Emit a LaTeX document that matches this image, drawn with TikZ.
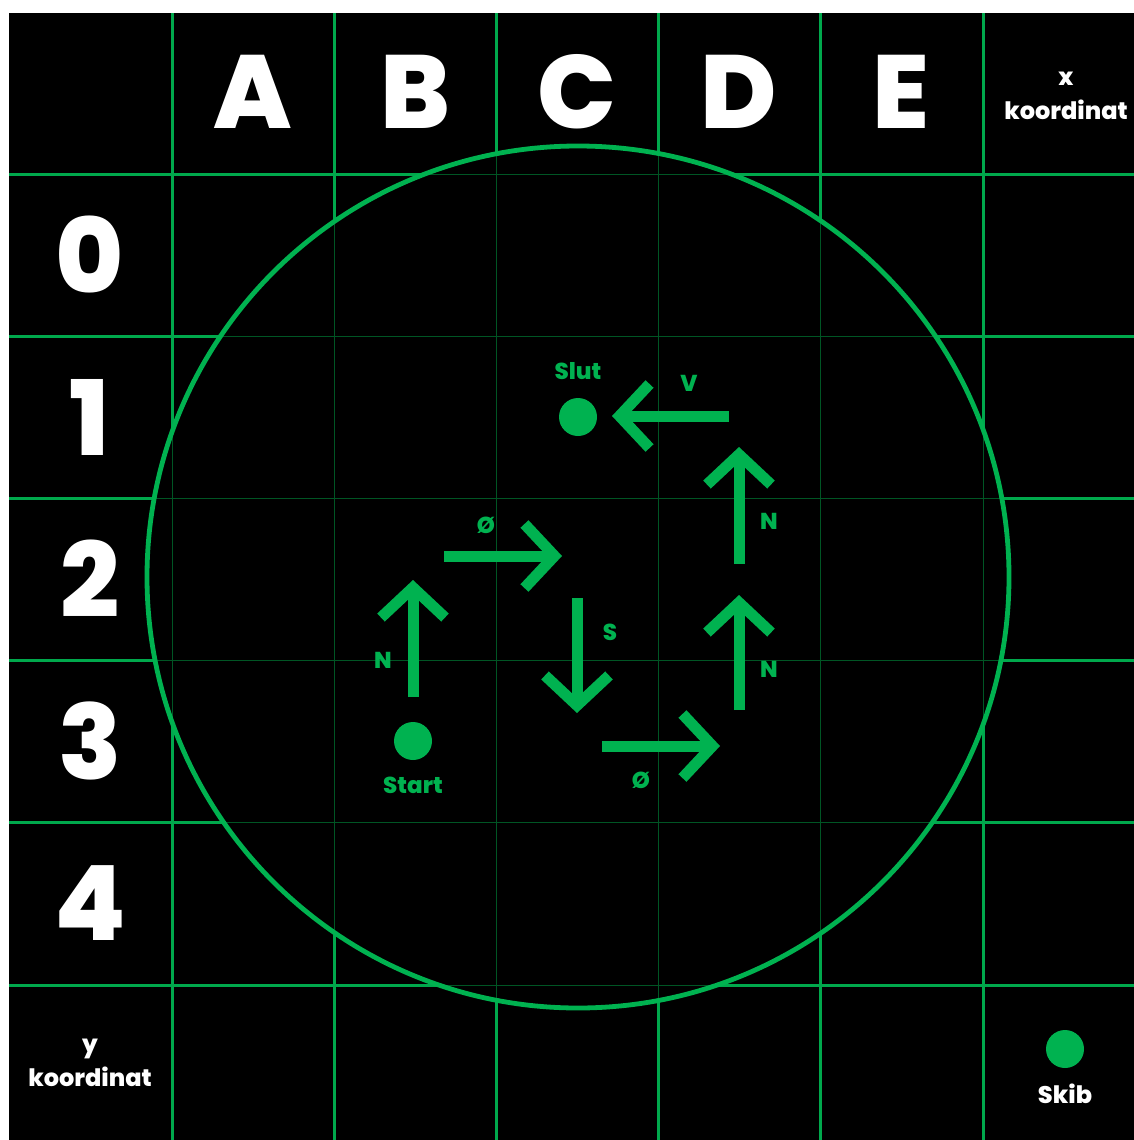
\documentclass[tikz,border=0pt]{standalone}
\usepackage{fontspec}
\setmainfont{Poppins}[BoldFont={Poppins ExtraBold}]
\usetikzlibrary{arrows.meta}
\definecolor{skibgreen}{RGB}{0,178,80}
\definecolor{gridgreen}{RGB}{0,168,76}
\definecolor{fadegreen}{RGB}{0,85,36}
\tikzset{
    % headers and side labels
    bigletter/.style={text=white, font=\fontsize{52}{52}\selectfont\bfseries, inner sep=0pt},
    smalltext/.style={text=white, font=\fontsize{12}{17}\selectfont\bfseries, align=center, inner sep=0pt},
    % labels along the route
    steplabel/.style={text=skibgreen, font=\fontsize{11.5}{13}\selectfont\bfseries, inner sep=0pt},
    % markers
    dot/.style={circle, fill=skibgreen, minimum size=19pt, inner sep=0pt},
    % one move of the ship
    move/.style={draw=skibgreen, line width=5.5pt, -{Straight Barb[length=15pt,width=32pt]}},
}

\begin{document}
\begin{tikzpicture}[x=0.5pt, y=-0.5pt]
  \useasboundingbox (0,0) rectangle (1134,1140);
  \fill[white] (0,0) rectangle (1134,1140);
  \fill[black] (9,13) rectangle (1134,1140);

  % --- the board ---
  \foreach \x in {172,334,496,658,820,983}{\draw[gridgreen,line width=1.5pt] (\x,13)--(\x,1140);}
  \foreach \y in {174,336,498,660,822,985}{\draw[gridgreen,line width=1.5pt] (9,\y)--(1134,\y);}
  \fill[black] (578,577) circle (431);
  \begin{scope}
    \clip (578,577) circle (431);
    \foreach \x in {172,334,496,658,820,983}{\draw[fadegreen,line width=0.45pt] (\x,13)--(\x,1140);}
    \foreach \y in {174,336,498,660,822,985}{\draw[fadegreen,line width=0.45pt] (9,\y)--(1134,\y);}
  \end{scope}
  \draw[skibgreen,line width=2.4pt] (578,577) circle (431);

  % column and row names
  \foreach \c [count=\i from 0] in {A,B,C,D,E}{\node[bigletter] (col\c) at (253+162*\i,92) {\c};}
  \foreach \r in {0,...,4}{\node[bigletter] (row\r) at (90,255+162*\r) {\r};}
  \node[smalltext] (xkoord) at (1066,96) {x\\koordinat};
  \node[smalltext] (ykoord) at (90,1063) {y\\koordinat};

  % the ship
  \node[dot] (skib) at (1065,1049) {};
  \node[smalltext] (skibtxt) at (1065,1094) {Skib};

  % start and end of the route
  \node[dot] (start) at (413,741) {};
  \node[steplabel] (starttxt) at (413,785) {Start};
  \node[dot] (slut) at (578,417) {};
  \node[steplabel] (sluttxt) at (578,371) {Slut};

  % the moves
  \coordinate (m1a) at (413,697); \coordinate (m1b) at (413,580);
  \coordinate (m2a) at (444,556); \coordinate (m2b) at (562,556);
  \coordinate (m3a) at (577,598); \coordinate (m3b) at (577,713);
  \coordinate (m4a) at (602,746); \coordinate (m4b) at (720,746);
  \coordinate (m5a) at (739,710); \coordinate (m5b) at (739,595);
  \coordinate (m6a) at (739,564); \coordinate (m6b) at (739,447);
  \coordinate (m7a) at (729,416); \coordinate (m7b) at (612,416);
  \foreach \m in {1,...,7}{\draw[move] (m\m a) -- (m\m b);}
  \node[steplabel] (l1) at (383,660) {N};
  \node[steplabel] (l2) at (486,525) {Ø};
  \node[steplabel] (l3) at (610,632) {S};
  \node[steplabel] (l4) at (641,780) {Ø};
  \node[steplabel] (l5) at (769,669) {N};
  \node[steplabel] (l6) at (769,521) {N};
  \node[steplabel] (l7) at (689,383) {V};
\end{tikzpicture}
\end{document}
